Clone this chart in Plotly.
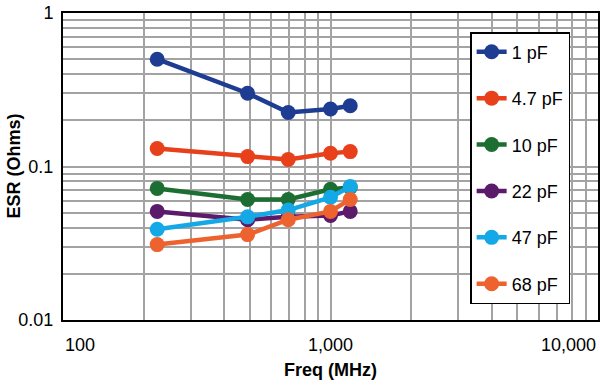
import math
import plotly.graph_objects as go

freq = [225, 490, 695, 1000, 1185]
series_names = ["1 pF", "4.7 pF", "10 pF", "22 pF", "47 pF", "68 pF"]
esr_1pf = [0.50, 0.300, 0.225, 0.237, 0.249]
esr_4p7pf = [0.131, 0.116, 0.111, 0.122, 0.125]
esr_10pf = [0.072, 0.061, 0.061, 0.071, 0.073]
esr_22pf = [0.051, 0.045, 0.047, 0.048, 0.051]
esr_47pf = [0.039, 0.047, 0.052, 0.063, 0.074]
esr_68pf = [0.031, 0.036, 0.045, 0.051, 0.061]
colors = ["#1f3c93", "#e8401a", "#1c6e32", "#5c1a6a", "#14a8e6", "#ee6230"]
x_tick_vals = [100, 1000, 10000]
x_tick_text = ["100", "1,000", "10,000"]
y_tick_vals = [0.01, 0.1, 1]
y_tick_text = ["0.01", "0.1", "1"]

all_series = [esr_1pf, esr_4p7pf, esr_10pf, esr_22pf, esr_47pf, esr_68pf]

fig = go.Figure()
for i, (name, vals) in enumerate(zip(series_names, all_series)):
    fig.add_trace(go.Scatter(
        x=freq, y=vals, name=name, mode="lines+markers",
        legendgroup=f"g{i}",
        line=dict(color=colors[i], width=4.5),
        marker=dict(color=colors[i], size=15),
    ))

FONT = "Liberation Sans, Arial, sans-serif"
grid = "#a3a3a3"

fig.update_xaxes(
    type="log", range=[2, 4], automargin=False,
    showgrid=True, gridcolor=grid, gridwidth=1.5,
    minor=dict(showgrid=True, gridcolor=grid, gridwidth=1.5, dtick="D1"),
    showline=True, linecolor="black", linewidth=2, mirror=True,
    tickvals=x_tick_vals, ticktext=["", "", ""], ticks="",
    zeroline=False,
)
fig.update_yaxes(
    type="log", range=[-2, 0], automargin=False,
    showgrid=True, gridcolor=grid, gridwidth=1.5,
    minor=dict(showgrid=True, gridcolor=grid, gridwidth=1.5, dtick="D1"),
    showline=True, linecolor="black", linewidth=2, mirror=True,
    tickvals=y_tick_vals, ticktext=y_tick_text, ticks="",
    tickfont=dict(family=FONT, size=18, color="black"),
    ticklabelstandoff=4,
    zeroline=False,
)

annotations = []
anchors = ["left", "center", "right"]
for v, t, a in zip(x_tick_vals, x_tick_text, anchors):
    annotations.append(dict(
        x=math.log10(v), xref="x", y=0, yref="paper", text=t, showarrow=False,
        xanchor=a, yanchor="top", yshift=-13,
        font=dict(family=FONT, size=18, color="black"),
    ))
annotations.append(dict(
    x=0.5, xref="paper", y=0, yref="paper", text="<b>Freq (MHz)</b>", showarrow=False,
    xanchor="center", yanchor="top", yshift=-38,
    font=dict(family=FONT, size=18, color="black"),
))
annotations.append(dict(
    x=0, xref="paper", y=0.5, yref="paper", text="<b>ESR (Ohms)</b>", showarrow=False,
    xanchor="center", yanchor="middle", xshift=-50, textangle=-90,
    font=dict(family=FONT, size=18, color="black"),
))

fig.update_layout(
    width=600, height=386,
    margin=dict(l=63, r=2, t=13, b=66),
    paper_bgcolor="white", plot_bgcolor="white",
    showlegend=True,
    legend=dict(
        x=0.761, y=0.938, xanchor="left", yanchor="top",
        bgcolor="white", bordercolor="black", borderwidth=1.5,
        font=dict(family=FONT, size=18, color="black"),
        tracegroupgap=20, itemwidth=30,
    ),
    annotations=annotations,
)

fig.write_html(
    "out.html",
    config={"displayModeBar": False},
    post_script="document.body.style.margin='0';document.body.style.overflow='hidden';",
)
